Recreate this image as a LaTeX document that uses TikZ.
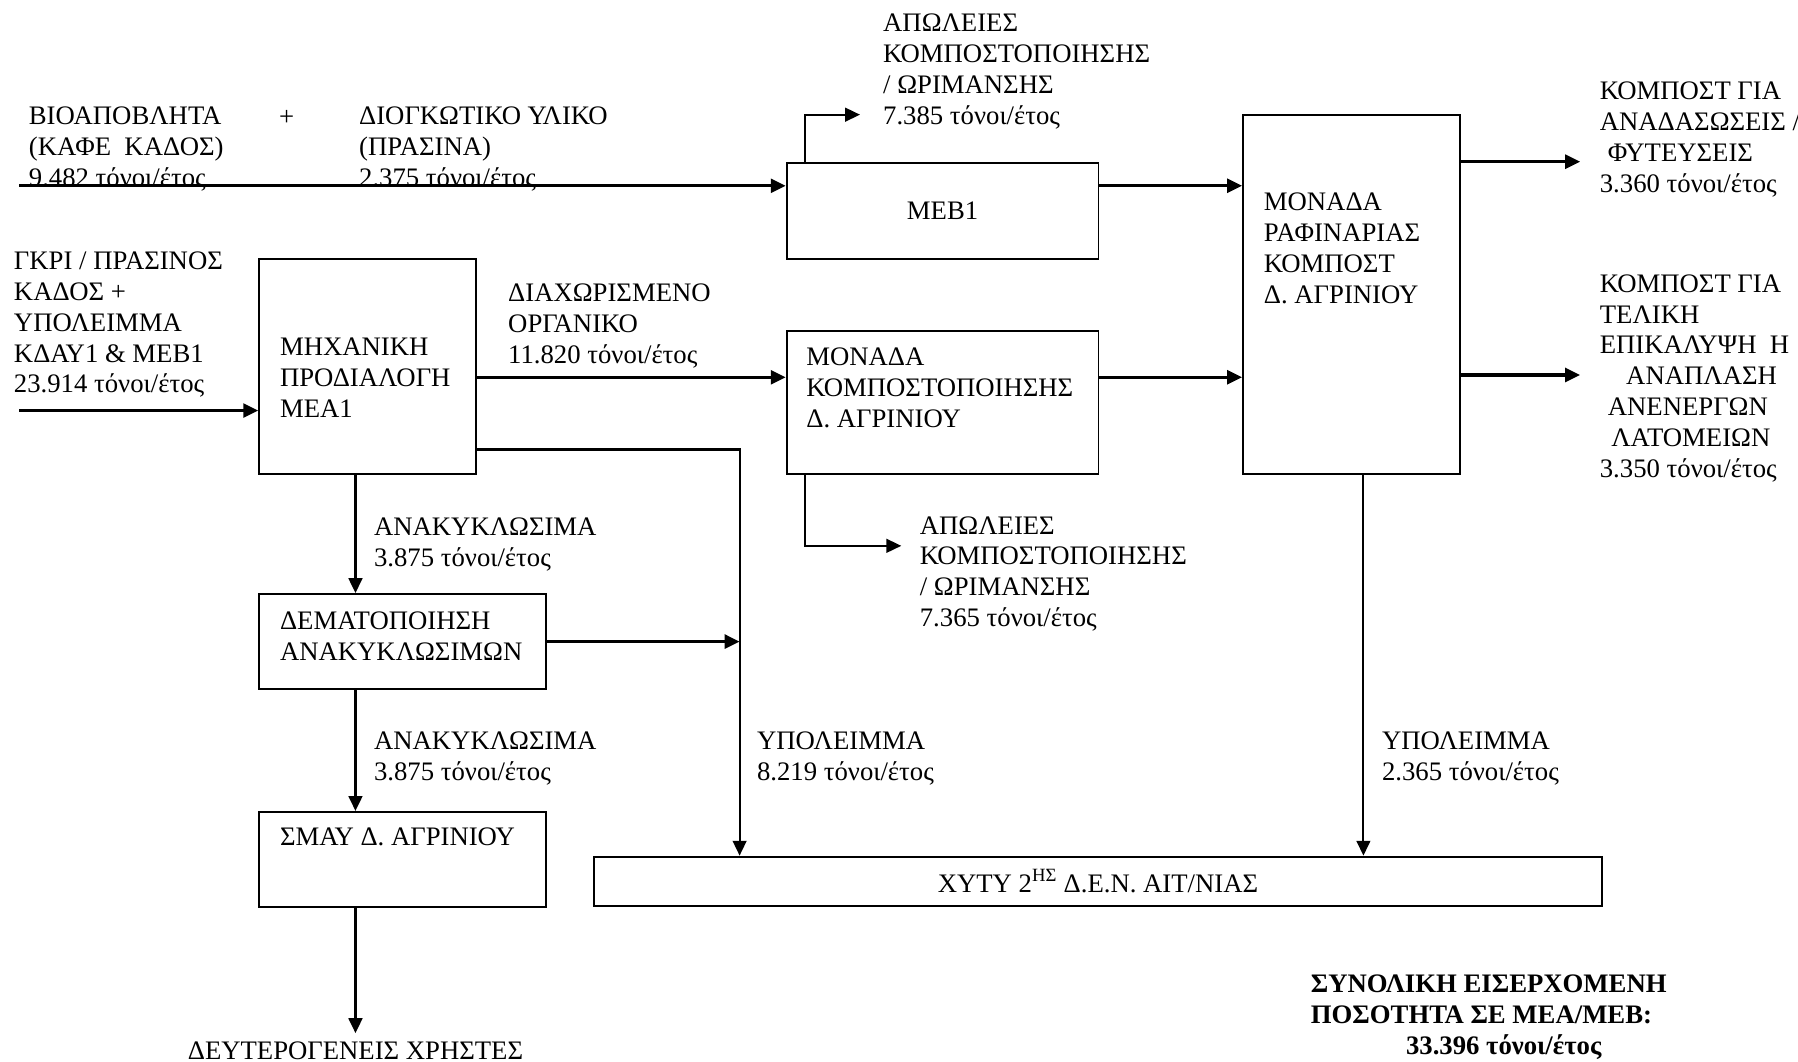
\documentclass[tikz,border=0pt]{standalone}
\usepackage{fontspec}
\setmainfont{Liberation Serif}
\usetikzlibrary{arrows.meta}

\tikzset{
  box/.style={draw, line width=1.6pt, inner sep=0pt},
  txt/.style={anchor=base west, align=left, inner sep=0pt},
  flow/.style={line width=2.7pt, -{Triangle[length=13pt,width=12pt]}},
  midflow/.style={line width=2.1pt, -{Triangle[length=13pt,width=12pt]}},
  thinflow/.style={line width=1.8pt, -{Triangle[length=13pt,width=12pt]}},
}

\begin{document}
\begin{tikzpicture}[x=1pt,y=-1pt,font=\fontsize{23.3}{27}\selectfont]
\useasboundingbox (0,0) rectangle (1568,926);
% boxes
\node[box,minimum width=272pt,minimum height=84pt] (meb) at (822,184) {ΜΕΒ1};
\node[box,minimum width=189pt,minimum height=187pt] (mea) at (320.5,319.5) {};
\node[box,minimum width=272pt,minimum height=124pt] (komp) at (822,351) {};
\node[box,minimum width=189pt,minimum height=313pt] (raf) at (1178.5,256.5) {};
\node[box,minimum width=250pt,minimum height=83pt] (dem) at (351,559.5) {};
\node[box,minimum width=250pt,minimum height=83pt] (smay) at (351,749.5) {};
\node[box,minimum width=879pt,minimum height=43pt] (xyty) at (957.5,768.5) {ΧΥΤΥ 2\textsuperscript{ΗΣ} Δ.Ε.Ν. ΑΙΤ/ΝΙΑΣ};
\node[inner sep=7pt] (users) at (310,916) {ΔΕΥΤΕΡΟΓΕΝΕΙΣ ΧΡΗΣΤΕΣ};

% texts in boxes (anchored at the last line)
\node[txt] (meatxt) at (244,363.7) {ΜΗΧΑΝΙΚΗ\\ΠΡΟΔΙΑΛΟΓΗ\\ΜΕΑ1};
\node[txt] (komptxt) at (703,372.7) {ΜΟΝΑΔΑ\\ΚΟΜΠΟΣΤΟΠΟΙΗΣΗΣ\\Δ. ΑΓΡΙΝΙΟΥ};
\node[txt] (raftxt) at (1102,264.7) {ΜΟΝΑΔΑ\\ΡΑΦΙΝΑΡΙΑΣ\\ΚΟΜΠΟΣΤ\\Δ. ΑΓΡΙΝΙΟΥ};
\node[txt] (demtxt) at (244,575.7) {ΔΕΜΑΤΟΠΟΙΗΣΗ\\ΑΝΑΚΥΚΛΩΣΙΜΩΝ};
\node[txt] (smaytxt) at (244,737.7) {ΣΜΑΥ Δ. ΑΓΡΙΝΙΟΥ};

% flow labels
\node[txt] (bio) at (25,162.7) {ΒΙΟΑΠΟΒΛΗΤΑ\\(ΚΑΦΕ\ \ ΚΑΔΟΣ)\\9.482 τόνοι/έτος};
\node (plus) at (250,103) {+};
\node[txt] (diog) at (313,162.7) {ΔΙΟΓΚΩΤΙΚΟ ΥΛΙΚΟ\\(ΠΡΑΣΙΝΑ)\\2.375 τόνοι/έτος};
\node[txt] (lossAtxt) at (770,108.7) {ΑΠΩΛΕΙΕΣ\\ΚΟΜΠΟΣΤΟΠΟΙΗΣΗΣ\\/ ΩΡΙΜΑΝΣΗΣ\\7.385 τόνοι/έτος};
\node[txt] (gkri) at (12,342.7) {ΓΚΡΙ / ΠΡΑΣΙΝΟΣ\\ΚΑΔΟΣ +\\ΥΠΟΛΕΙΜΜΑ\\ΚΔΑΥ1 \& ΜΕΒ1\\23.914 τόνοι/έτος};
\node[txt] (orgtxt) at (443,316.7) {ΔΙΑΧΩΡΙΣΜΕΝΟ\\ΟΡΓΑΝΙΚΟ\\11.820 τόνοι/έτος};
\node[txt] (outAtxt) at (1395,167.7) {ΚΟΜΠΟΣΤ ΓΙΑ\\ΑΝΑΔΑΣΩΣΕΙΣ /\\\hspace*{7pt}ΦΥΤΕΥΣΕΙΣ\\3.360 τόνοι/έτος};
\node[txt] (outBtxt) at (1395,416.7) {ΚΟΜΠΟΣΤ ΓΙΑ\\ΤΕΛΙΚΗ\\ΕΠΙΚΑΛΥΨΗ\ \ Η\\\hspace*{23pt}ΑΝΑΠΛΑΣΗ\\\hspace*{7pt}ΑΝΕΝΕΡΓΩΝ\\\hspace*{10pt}ΛΑΤΟΜΕΙΩΝ\\3.350 τόνοι/έτος};
\node[txt] (ana1) at (326,493.7) {ΑΝΑΚΥΚΛΩΣΙΜΑ\\3.875 τόνοι/έτος};
\node[txt] (lossBtxt) at (802,546.7) {ΑΠΩΛΕΙΕΣ\\ΚΟΜΠΟΣΤΟΠΟΙΗΣΗΣ\\/ ΩΡΙΜΑΝΣΗΣ\\7.365 τόνοι/έτος};
\node[txt] (ana2) at (326,680.7) {ΑΝΑΚΥΚΛΩΣΙΜΑ\\3.875 τόνοι/έτος};
\node[txt] (res1) at (660,680.7) {ΥΠΟΛΕΙΜΜΑ\\8.219 τόνοι/έτος};
\node[txt] (res2) at (1205,680.7) {ΥΠΟΛΕΙΜΜΑ\\2.365 τόνοι/έτος};
\node[txt,font=\fontsize{23.3}{27}\selectfont\bfseries] (total) at (1143,919.7) {ΣΥΝΟΛΙΚΗ ΕΙΣΕΡΧΟΜΕΝΗ\\ΠΟΣΟΤΗΤΑ ΣΕ ΜΕΑ/ΜΕΒ:\\\hspace*{83pt}33.396 τόνοι/έτος};

% free ends and levels
\coordinate (inA) at (17,162);
\coordinate (inB) at (17,358);
\coordinate (lvl) at (0,329);
\coordinate (lossA) at (750,100);
\coordinate (lossB) at (786,476);
\coordinate (outA) at (1378,141);
\coordinate (outB) at (1378,327);
\coordinate (res) at (645,392);
\coordinate (col) at (310,0);
\coordinate (col2) at (1189,0);

% connectors
\draw[flow] (inA) -- (inA -| meb.west);
\draw[flow] (meb.east |- inA) -- (raf.west |- inA);
\draw[thinflow] ([xshift=17pt]meb.north west) |- (lossA);
\draw[flow] (inB) -- (inB -| mea.west);
\draw[flow] (mea.east |- lvl) -- (komp.west |- lvl);
\draw[flow] (komp.east |- lvl) -- (raf.west |- lvl);
\draw[flow] (raf.east |- outA) -- (outA);
\draw[flow] (raf.east |- outB) -- (outB);
\draw[thinflow] (mea.east |- res) -| (res |- xyty.north);
\draw[flow] (dem.east) -- (dem.east -| res);
\draw[midflow] (mea.south -| col) -- (dem.north -| col);
\draw[midflow] (dem.south -| col) -- (smay.north -| col);
\draw[midflow] (smay.south -| col) -- (users.north);
\draw[thinflow] ([xshift=17pt]komp.south west) |- (lossB);
\draw[thinflow] (raf.south -| col2) -- (xyty.north -| col2);
\end{tikzpicture}
\end{document}
